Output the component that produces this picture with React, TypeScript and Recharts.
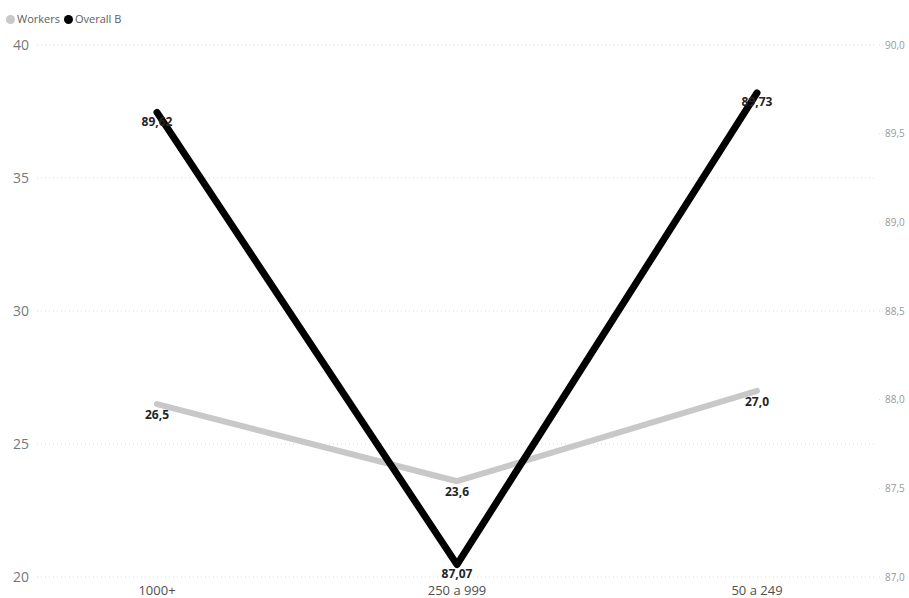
import * as React from 'react';
import { CartesianGrid, LabelList, Line, LineChart, XAxis, YAxis } from 'recharts';

const categories = ['1000+', '250 a 999', '50 a 249'];
const workers = [26.5, 23.6, 27.0];
const overallB = [89.62, 87.07, 89.73];
const leftTicks = [20, 25, 30, 35, 40];
const rightTicks = [87, 87.5, 88, 88.5, 89, 89.5, 90];

const data = categories.map((name, i) => ({ name, workers: workers[i], overall: overallB[i] }));

const FONT = '"Open Sans", "Noto Sans", sans-serif';
const comma = (v: number, d: number) => v.toFixed(d).replace('.', ',');

const makeLabel = (digits: number, dy: number) => (props: any) => {
  const { x, y, value } = props;
  return (
    <text
      x={x}
      y={y + dy}
      textAnchor='middle'
      dominantBaseline='middle'
      fontFamily={FONT}
      fontSize={12}
      fontWeight={700}
      fill='#252423'
    >
      {comma(Number(value), digits)}
    </text>
  );
};

function LegendRow() {
  const item = (color: string, text: string) => (
    <span style={{ display: 'inline-flex', alignItems: 'center', marginRight: 4 }}>
      <span
        style={{ width: 9, height: 9, borderRadius: '50%', background: color, display: 'inline-block', marginRight: 2 }}
      />
      {text}
    </span>
  );
  return (
    <div
      style={{
        position: 'absolute',
        left: 6,
        top: 12,
        fontFamily: FONT,
        fontSize: 11,
        color: '#605E5C',
        display: 'flex',
        alignItems: 'center',
        lineHeight: '14px',
      }}
    >
      {item('#C8C8C8', 'Workers')}
      {item('#000000', 'Overall B')}
    </div>
  );
}

export default function App() {
  return (
    <div style={{ position: 'fixed', left: 0, top: 0, width: 909, height: 598, background: '#fff' }}>
      <LegendRow />
      <LineChart width={909} height={598} data={data} margin={{ top: 45, right: 0, bottom: 0, left: 0 }}>
        <CartesianGrid
          yAxisId='left'
          vertical={false}
          stroke='#D9D9D9'
          strokeDasharray='1 3'
        />
        <XAxis
          dataKey='name'
          type='category'
          axisLine={false}
          tickLine={false}
          height={21}
          padding={{ left: 120, right: 120 }}
          tick={{ fill: '#4F4F4F', fontSize: 13, fontFamily: FONT }}
          tickMargin={3}
        />
        <YAxis
          yAxisId='left'
          width={37}
          domain={[20, 40]}
          ticks={leftTicks}
          axisLine={false}
          tickLine={false}
          tick={{ fill: '#777777', fontSize: 14, fontFamily: FONT }}
        />
        <YAxis
          yAxisId='right'
          orientation='right'
          width={32}
          domain={[87, 90]}
          ticks={rightTicks}
          axisLine={false}
          tickLine={{ stroke: '#E0E0E0', strokeDasharray: '1 2' }}
          tickFormatter={(v: number) => comma(v, 1)}
          tick={{ fill: '#999999', fontSize: 10, fontFamily: FONT }}
        />
        <Line
          yAxisId='left'
          dataKey='workers'
          type='linear'
          stroke='#C8C8C8'
          strokeWidth={6}
          strokeLinejoin='round'
          strokeLinecap='round'
          dot={false}
          activeDot={false}
          isAnimationActive={false}
        >
          <LabelList dataKey='workers' content={makeLabel(1, 12)} />
        </Line>
        <Line
          yAxisId='right'
          dataKey='overall'
          type='linear'
          stroke='#000000'
          strokeWidth={7}
          strokeLinejoin='round'
          strokeLinecap='round'
          dot={false}
          activeDot={false}
          isAnimationActive={false}
        >
          <LabelList dataKey='overall' content={makeLabel(2, 10)} />
        </Line>
      </LineChart>
    </div>
  );
}
